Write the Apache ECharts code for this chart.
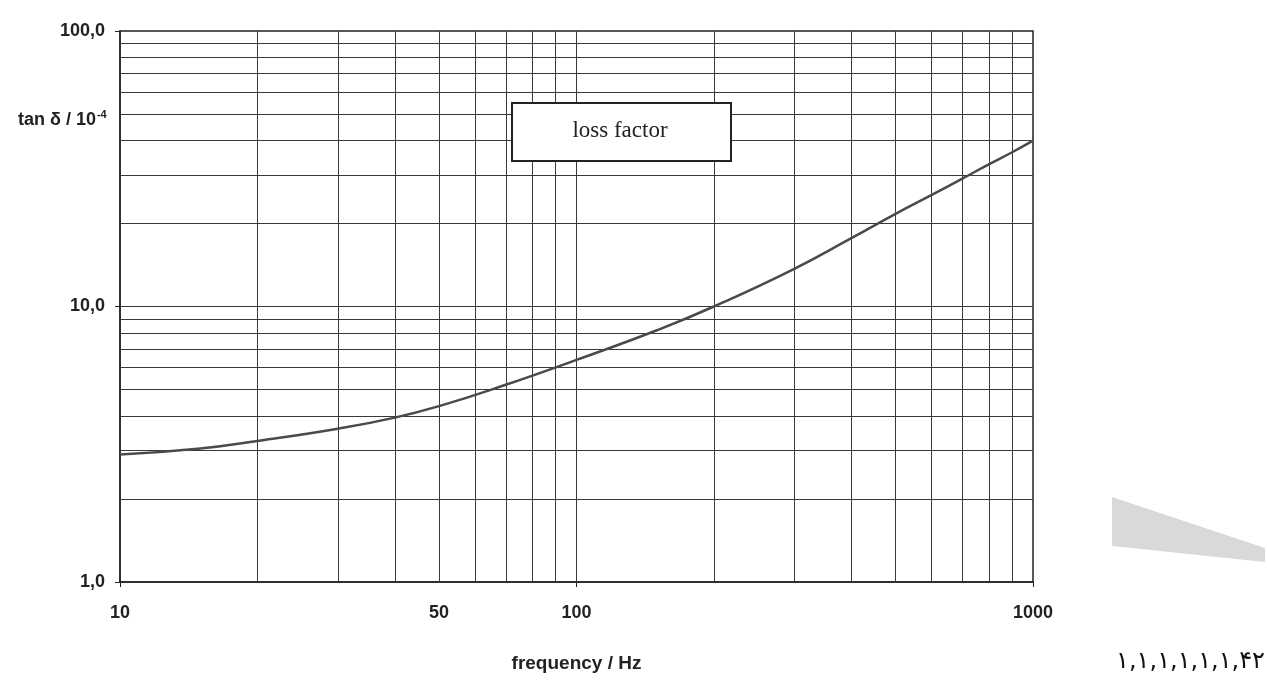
<!DOCTYPE html>
<html>
<head>
<meta charset="utf-8">
<script src="https://cdn.jsdelivr.net/npm/echarts@6/dist/echarts.min.js"></script>
<style>html,body{margin:0;padding:0;background:#fff;}#c{width:1267px;height:693px;}</style>
</head>
<body>
<div id="c"></div>
<script>
// Data
const frequency = [10, 15, 20, 30, 40, 50, 70, 100, 150, 200, 300, 400, 500, 600, 700, 800, 900, 1000];
const lossFactor = [2.9, 3.05, 3.25, 3.6, 3.95, 4.35, 5.2, 6.4, 8.2, 10.0, 13.7, 17.7, 21.7, 25.4, 29.1, 32.8, 36.3, 40.0];
const xTickLabels = [10, 50, 100, 1000];
const yTickLabels = [1, 10, 100];
const xGridValues = [20, 30, 40, 50, 60, 70, 80, 90, 100, 200, 300, 400, 500, 600, 700, 800, 900];
const yGridValues = [2, 3, 4, 5, 6, 7, 8, 9, 10, 20, 30, 40, 50, 60, 70, 80, 90];
const yAxisTitle = 'tan δ / 10';
const yAxisTitleSup = '-4';
const xAxisTitle = 'frequency / Hz';
const boxText = 'loss factor';
const footText = '۱,۱,۱,۱,۱,۱,۴۲';

const chart = echarts.init(document.getElementById('c'));
const gridLine = { color: '#3a3a3a', width: 1, type: 'solid' };
const option = {
  animation: false,
  backgroundColor: '#fff',
  grid: { left: 120, right: 234, top: 31, bottom: 111, show: true, borderColor: '#222', borderWidth: 1.5, backgroundColor: 'transparent' },
  title: {
    text: '{a|' + yAxisTitle + '}{s|' + yAxisTitleSup + '}',
    left: 13, top: 104,
    textStyle: { rich: {
      a: { fontFamily: 'Liberation Sans', fontWeight: 'bold', fontSize: 18, color: '#222' },
      s: { fontFamily: 'Liberation Sans', fontWeight: 'bold', fontSize: 11, color: '#222', verticalAlign: 'top', padding: [0, 0, 12, 1] }
    } }
  },
  xAxis: {
    type: 'log', logBase: 10, min: 10, max: 1000,
    name: xAxisTitle, nameLocation: 'middle', nameGap: 72,
    nameTextStyle: { fontFamily: 'Liberation Sans', fontWeight: 'bold', fontSize: 19, color: '#222' },
    axisLine: { show: true, lineStyle: { color: '#222', width: 1.5 } },
    axisTick: { show: true, length: 5, lineStyle: { color: '#222' } },
    splitLine: { show: false },
    axisLabel: {
      customValues: xTickLabels,
      margin: 22,
      fontFamily: 'Liberation Sans', fontWeight: 'bold', fontSize: 18, color: '#222',
      formatter: v => String(Math.round(v))
    }
  },
  yAxis: {
    type: 'log', logBase: 10, min: 1, max: 100,
    axisLine: { show: true, lineStyle: { color: '#222', width: 1.5 } },
    axisTick: { show: true, length: 5, lineStyle: { color: '#222' } },
    splitLine: { show: false },
    axisLabel: {
      customValues: yTickLabels,
      margin: 15,
      fontFamily: 'Liberation Sans', fontWeight: 'bold', fontSize: 18, color: '#222',
      formatter: v => Number(v).toFixed(1).replace('.', ',')
    }
  },
  series: [
    {
      type: 'line', data: [], z: 1, silent: true,
      markLine: {
        silent: true, symbol: ['none', 'none'], label: { show: false },
        lineStyle: gridLine, animation: false,
        data: xGridValues.map(v => ({ xAxis: v })).concat(yGridValues.map(v => ({ yAxis: v })))
      }
    },
    {
      type: 'line', z: 5,
      data: frequency.map((f, i) => [f, lossFactor[i]]),
      smooth: true, showSymbol: false,
      lineStyle: { color: '#4a4a4a', width: 2.5 }
    }
  ],
  graphic: [
    { type: 'polygon', z: 0, shape: { points: [[1112, 497], [1265, 548], [1265, 562], [1112, 546]] }, style: { fill: '#d9d9d9' } },
    { type: 'rect', z: 100, shape: { x: 512, y: 103, width: 219, height: 58 }, style: { fill: '#fff', stroke: '#222', lineWidth: 2 } },
    { type: 'text', z: 101, x: 620, y: 131, style: { text: boxText, font: '23px "Liberation Serif"', fill: '#222', align: 'center', verticalAlign: 'middle' } },
    { type: 'text', z: 101, x: 1265, y: 662, style: { text: footText, font: '24px "DejaVu Sans"', fill: '#111', align: 'right', verticalAlign: 'middle' } }
  ]
};
chart.setOption(option);
</script>
</body>
</html>
